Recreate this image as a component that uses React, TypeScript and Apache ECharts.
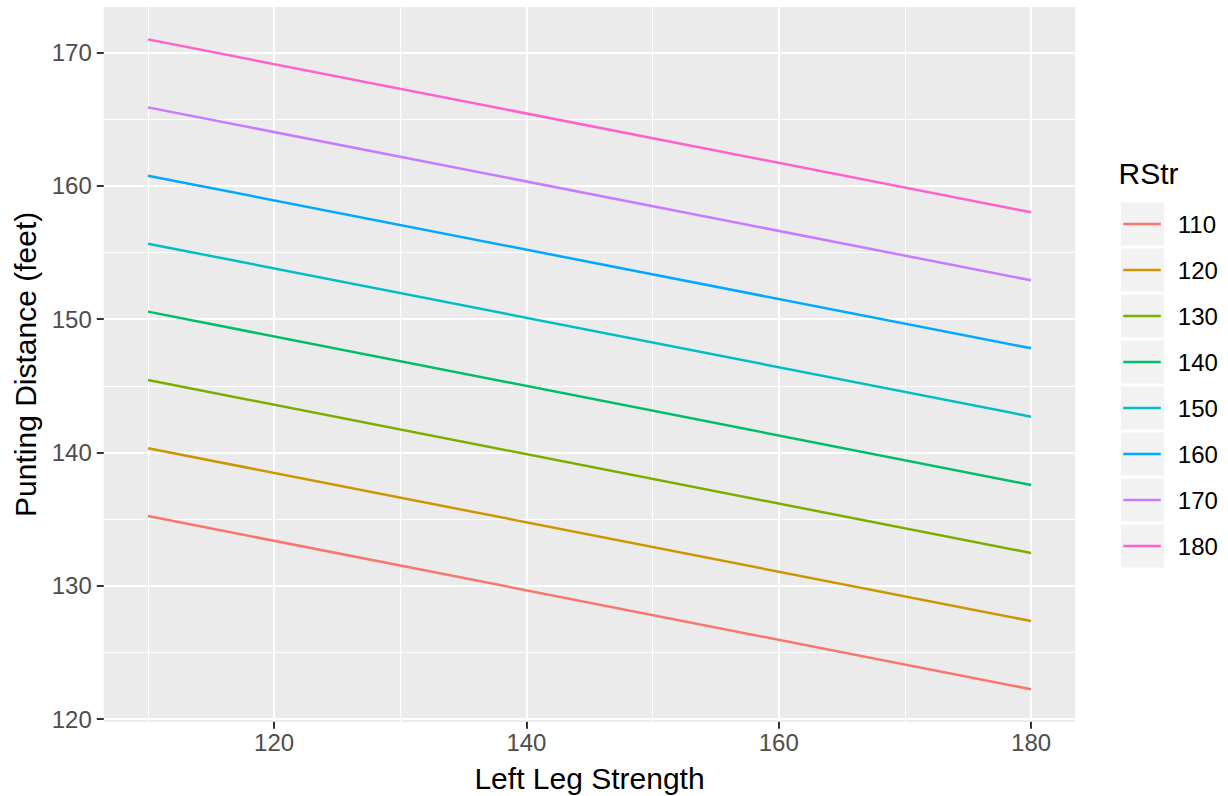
import React, { useEffect, useRef } from 'react';
import * as echarts from 'echarts';

// ---- data ----
const leftLegStrength = [110, 180];
const rStrLevels = ['110', '120', '130', '140', '150', '160', '170', '180'];
const distanceAtLeft110 = [135.23, 140.32, 145.44, 150.57, 155.67, 160.77, 165.9, 171.0];
const distanceAtLeft180 = [122.23, 127.35, 132.46, 137.56, 142.69, 147.82, 152.92, 158.03];
const xMajorTicks = [120, 140, 160, 180];
const xMinorTicks = [110, 130, 150, 170];
const yMajorTicks = [120, 130, 140, 150, 160, 170];
const yMinorTicks = [125, 135, 145, 155, 165];
const hueColors = ['#F8766D', '#CD9600', '#7CAE00', '#00BE67', '#00BFC4', '#00A9FF', '#C77CFF', '#FF61CC'];

const FONT = '"Liberation Sans", Arial, Helvetica, sans-serif';

// ggplot-like 5% expansion of the data range
const allY = [...distanceAtLeft110, ...distanceAtLeft180];
const yLo = Math.min(...allY);
const yHi = Math.max(...allY);
const xLo = Math.min(...leftLegStrength);
const xHi = Math.max(...leftLegStrength);
const X_MIN = xLo - 0.05 * (xHi - xLo);
const X_MAX = xHi + 0.05 * (xHi - xLo);
const Y_MIN = yLo - 0.05 * (yHi - yLo);
const Y_MAX = yHi + 0.05 * (yHi - yLo);

const GRID = { left: 103.8, top: 6.9, width: 971.4, height: 714.9 };

const LEG_LEFT = 1121;
const LEG_FIRST_CENTER = 224;
const LEG_STEP = 46;
const LEG_BOX = 43;
const KEY_LINE_W = 37.5;
const KEY_LINE_H = 2.6;
const DATA_LINE_W = 2.5;

export default function App() {
  const ref = useRef<HTMLDivElement>(null);

  useEffect(() => {
    document.body.style.margin = '0';
    if (!ref.current) return;
    const chart = echarts.init(ref.current, null, { renderer: 'svg' });

    const series = rStrLevels.map((name, i) => ({
      name,
      type: 'line',
      xAxisIndex: 0,
      yAxisIndex: 0,
      data: [
        [leftLegStrength[0], distanceAtLeft110[i]],
        [leftLegStrength[1], distanceAtLeft180[i]],
      ],
      symbol: 'none',
      showSymbol: false,
      color: hueColors[i],
      itemStyle: { color: hueColors[i] },
      lineStyle: { color: hueColors[i], width: DATA_LINE_W },
      emphasis: { disabled: true },
      silent: true,
    }));

    const keyBoxes = rStrLevels.map((_, i) => ({
      type: 'rect',
      shape: {
        x: LEG_LEFT,
        y: LEG_FIRST_CENTER + LEG_STEP * i - LEG_BOX / 2,
        width: LEG_BOX,
        height: LEG_BOX,
      },
      style: { fill: '#F2F2F2' },
      z: 1,
    }));

    const baseAxisCommon = {
      type: 'value',
      axisLine: { show: false },
      nameMoveOverlap: false,
    };

    const keyIcon = `path://M0,0L${KEY_LINE_W},0L${KEY_LINE_W},${KEY_LINE_H}L0,${KEY_LINE_H}Z`;

    const option: any = {
      animation: false,
      backgroundColor: '#FFFFFF',
      textStyle: { fontFamily: FONT },
      grid: {
        ...GRID,
        show: true,
        backgroundColor: '#EBEBEB',
        borderWidth: 0,
        containLabel: false,
        outerBoundsMode: 'none',
      },
      xAxis: [
        {
          ...baseAxisCommon,
          position: 'bottom',
          min: X_MIN,
          max: X_MAX,
          name: 'Left Leg Strength',
          nameLocation: 'middle',
          nameGap: 42,
          nameTextStyle: { fontSize: 30, color: '#000000', fontFamily: FONT },
          axisTick: {
            show: true,
            length: 7,
            customValues: xMajorTicks,
            lineStyle: { color: '#333333', width: 2 },
          },
          axisLabel: {
            customValues: xMajorTicks,
            fontSize: 24,
            color: '#4D4D4D',
            margin: 9,
            fontFamily: FONT,
          },
          splitLine: { show: true, lineStyle: { color: '#FFFFFF', width: 2.1 } },
          z: 1,
        },
        {
          ...baseAxisCommon,
          position: 'bottom',
          min: X_MIN,
          max: X_MAX,
          axisTick: { show: false, customValues: xMinorTicks },
          axisLabel: { show: false, customValues: xMinorTicks },
          splitLine: { show: true, lineStyle: { color: '#FFFFFF', width: 1.05 } },
          z: 0,
        },
      ],
      yAxis: [
        {
          ...baseAxisCommon,
          position: 'left',
          min: Y_MIN,
          max: Y_MAX,
          name: 'Punting Distance (feet)',
          nameLocation: 'middle',
          nameGap: 63,
          nameRotate: 90,
          nameTextStyle: { fontSize: 30, color: '#000000', fontFamily: FONT },
          axisTick: {
            show: true,
            length: 7,
            customValues: yMajorTicks,
            lineStyle: { color: '#333333', width: 2 },
          },
          axisLabel: {
            customValues: yMajorTicks,
            fontSize: 24,
            color: '#4D4D4D',
            margin: 12,
            fontFamily: FONT,
          },
          splitLine: { show: true, lineStyle: { color: '#FFFFFF', width: 2.1 } },
          z: 1,
        },
        {
          ...baseAxisCommon,
          position: 'left',
          min: Y_MIN,
          max: Y_MAX,
          axisTick: { show: false, customValues: yMinorTicks },
          axisLabel: { show: false, customValues: yMinorTicks },
          splitLine: { show: true, lineStyle: { color: '#FFFFFF', width: 1.05 } },
          z: 0,
        },
      ],
      legend: {
        orient: 'vertical',
        left: LEG_LEFT + 2.3,
        top: LEG_FIRST_CENTER - 12,
        padding: 0,
        itemWidth: KEY_LINE_W,
        itemHeight: KEY_LINE_H,
        itemGap: LEG_STEP - 24,
        selectedMode: false,
        icon: keyIcon,
        symbolKeepAspect: false,
        data: rStrLevels,
        textStyle: {
          fontSize: 24,
          lineHeight: 24,
          color: '#000000',
          fontFamily: FONT,
          padding: [0, 0, 0, 12],
        },
        z: 5,
      },
      graphic: [
        ...keyBoxes,
        {
          type: 'text',
          x: 1118.5,
          y: 173,
          style: {
            text: 'RStr',
            fontSize: 30,
            fontFamily: FONT,
            fill: '#000000',
            verticalAlign: 'middle',
            align: 'left',
          },
          z: 5,
        },
      ],
      series,
    };

    chart.setOption(option);
    return () => {
      chart.dispose();
    };
  }, []);

  return <div ref={ref} style={{ width: 1228, height: 796 }} />;
}
